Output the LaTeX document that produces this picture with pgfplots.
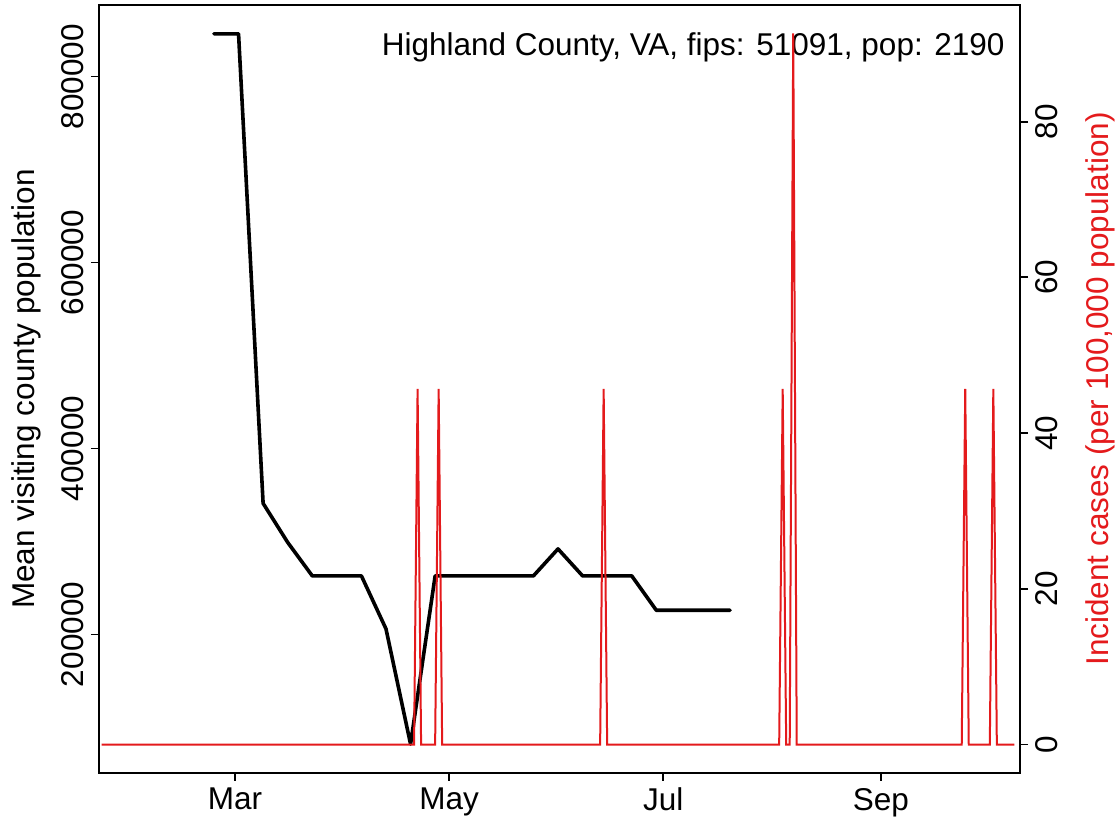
\documentclass[border=0pt]{standalone}
\usepackage{fontspec}
\setmainfont{Liberation Sans}
\usepackage{pgfplots}
\pgfplotsset{compat=1.18}
\definecolor{caseRed}{HTML}{E41A1C}

\begin{document}
\begin{tikzpicture}[font=\fontsize{15.75}{18.9}\selectfont]
\pgfplotsset{
  base/.style={
    width=460.5pt, height=384pt, scale only axis,
    xmin=21.25, xmax=283.6,
    tick align=outside, major tick length=4pt,
    every tick/.style={black, line width=0.9pt},
    axis line style={line width=0.9pt},
    /pgf/number format/assume math mode=true,
    /pgf/number format/fixed,
    /pgf/number format/1000 sep={},
  },
}
% x = day of 2020 (0 = Jan 1)
\begin{axis}[base, name=ax,
  xtick={60,121,182,244}, xticklabels={Mar,May,Jul,Sep},
  xtick pos=left, ytick pos=left,
  ymin=51000, ymax=877000,
  ytick={200000,400000,600000,800000},
  scaled y ticks=false,
  yticklabel style={rotate=90, anchor=south},
  ylabel={Mean visiting county population},
  % label is rotated, so yshift moves it sideways
  ylabel style={at={(axis description cs:0,0.5)}, anchor=center, yshift=36.5pt},
]
\addplot[black, line width=1.8pt, line join=round, line cap=round] coordinates {
  (54,846000) (61,846000) (68,341000) (75,299000) (82,263000) (89,263000)
  (96,263000) (103,206000) (110,82000) (117,263000) (124,263000) (131,263000)
  (138,263000) (145,263000) (152,292000) (159,263000) (166,263000) (173,263000)
  (180,226000) (187,226000) (194,226000) (201,226000)
};
\node[anchor=base east, inner sep=0pt, xshift=-7.5pt, yshift=-25.5pt]
  at (axis description cs:1,1) {Highland County, VA, fips: 51091, pop: 2190};
\end{axis}
\begin{axis}[base,
  axis x line=none, axis y line*=right,
  ymin=-3.653, ymax=94.977,
  ytick={0,20,40,60,80},
  yticklabel style={rotate=90, anchor=north},
  ylabel={Incident cases (per 100,000 population)},
  ylabel style={at={(axis description cs:1,0.5)}, anchor=center, yshift=-40pt, text=caseRed},
]
\addplot[caseRed, line width=1pt] coordinates {
  (22,0) (111,0) (112,45.66) (113,0) (117,0) (118,45.66) (119,0)
  (164,0) (165,45.66) (166,0) (215,0) (216,45.66) (217,0) (218,0)
  (219,91.32) (220,0) (267,0) (268,45.66) (269,0) (275,0) (276,45.66)
  (277,0) (282,0)
};
\end{axis}
\pgfresetboundingbox
\path[use as bounding box] ([xshift=-49.5pt,yshift=-24.5pt]ax.south west)
  rectangle ([xshift=49.5pt,yshift=2.5pt]ax.north east);
\end{tikzpicture}
\end{document}
